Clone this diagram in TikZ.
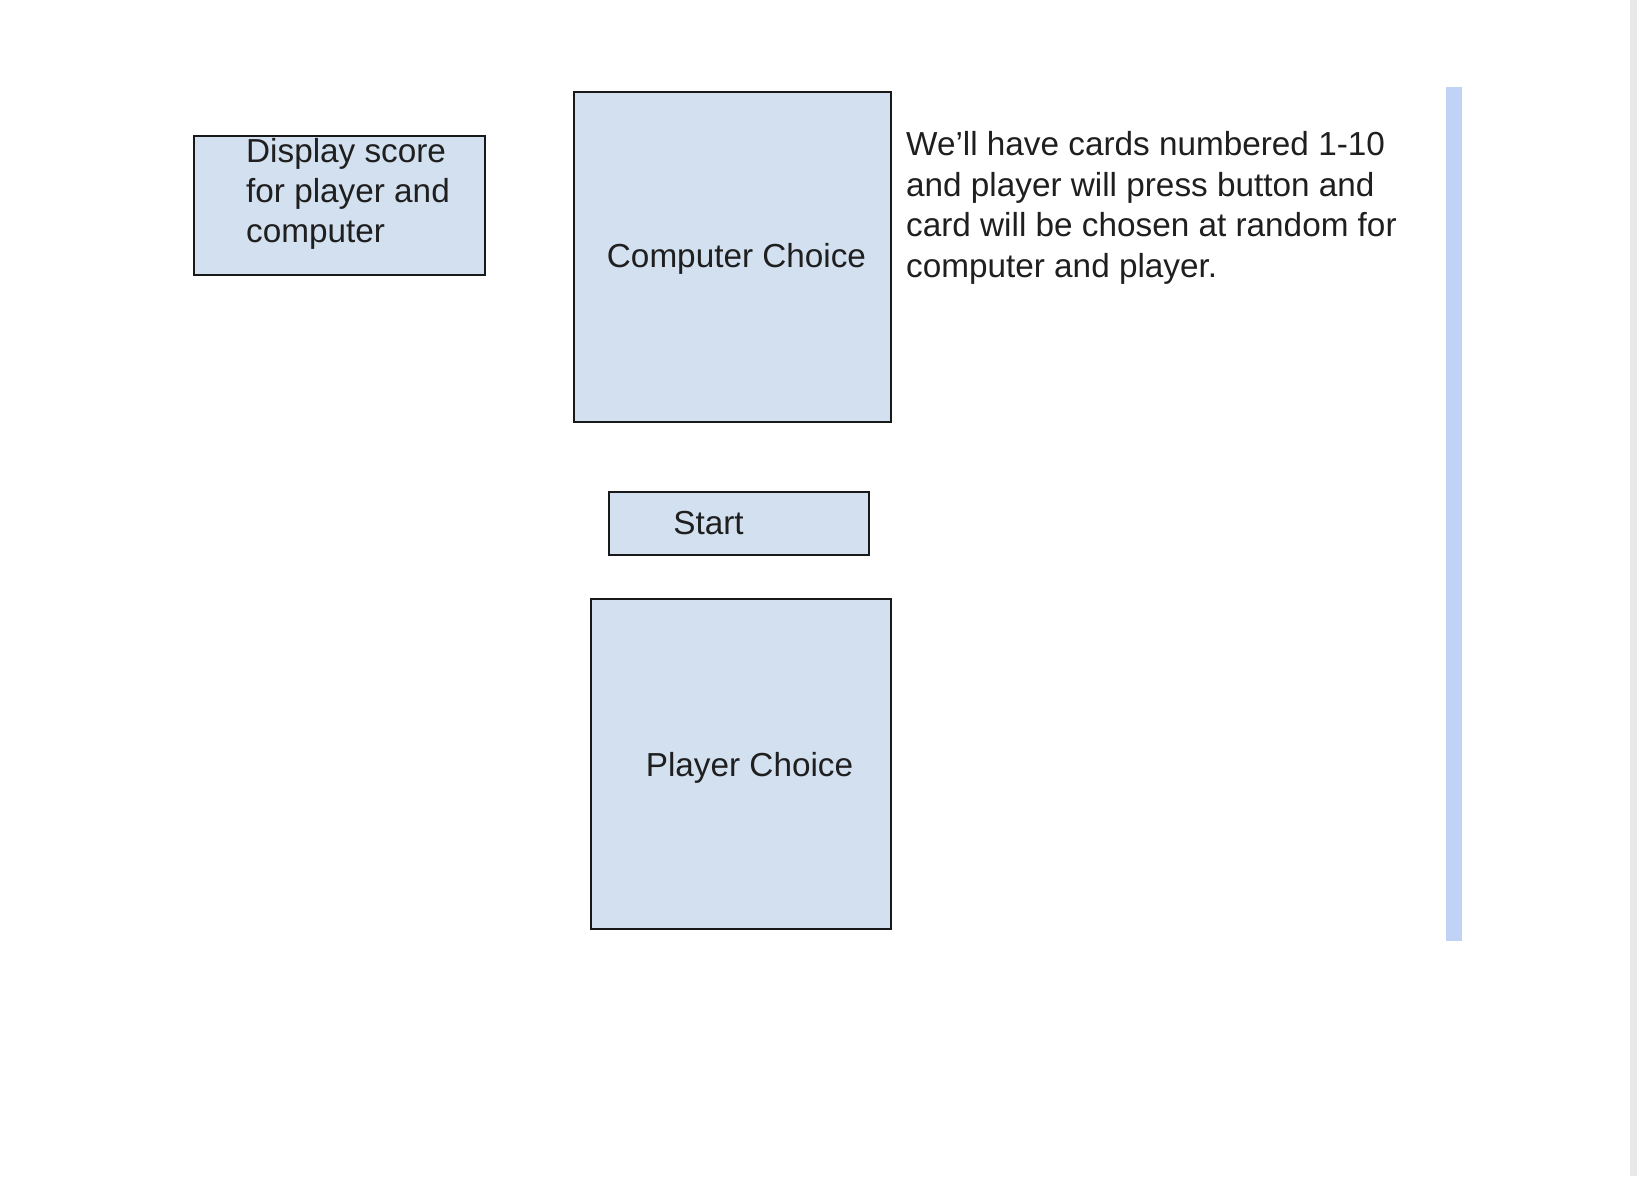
\documentclass[tikz,border=0pt]{standalone}
\usepackage{fontspec}
\setmainfont{Liberation Sans}
\definecolor{boxfill}{RGB}{211,224,239}
\definecolor{barblue}{RGB}{192,211,246}
\definecolor{edgegray}{RGB}{232,232,232}
\begin{document}
\begin{tikzpicture}[x=1pt,y=-1pt,
  shapebox/.style={draw=black!90,line width=1.6pt,fill=boxfill,anchor=north west,inner sep=0pt,outer sep=0pt},
  lbl/.style={font=\fontsize{33.3}{40.4}\selectfont,text=black!88,inner sep=0pt}]
\useasboundingbox (0,0) rectangle (1637,1176);
\fill[white] (0,0) rectangle (1637,1176);
\fill[edgegray] (1630,0) rectangle (1637,1176);
% boxes
\node[shapebox,minimum width=291pt,minimum height=139pt] (disp) at (194,136) {};
\node[shapebox,minimum width=317pt,minimum height=330pt] (comp) at (574,92) {};
\node[shapebox,minimum width=260pt,minimum height=63pt] (start) at (609,492) {};
\node[shapebox,minimum width=300pt,minimum height=330pt] (player) at (591,599) {};
% blue bar
\fill[barblue] (1446,87) rectangle (1462,941);
% labels
\node[lbl,anchor=base west] (d1) at (246,162) {Display score};
\node[lbl,anchor=base west] (d2) at (246,202.5) {for player and};
\node[lbl,anchor=base west] (d3) at (246,242.5) {computer};
\node[lbl,anchor=base] (compl) at (736.5,267) {Computer Choice};
\node[lbl,anchor=base] (startl) at (708.5,534.5) {Start};
\node[lbl,anchor=base] (playerl) at (749.5,776) {Player Choice};
\node[lbl,anchor=base west] (n1) at (906,155.5) {We’ll have cards numbered 1-10};
\node[lbl,anchor=base west] (n2) at (906,196) {and player will press button and};
\node[lbl,anchor=base west] (n3) at (906,236.5) {card will be chosen at random for};
\node[lbl,anchor=base west] (n4) at (906,277) {computer and player.};
\end{tikzpicture}
\end{document}
